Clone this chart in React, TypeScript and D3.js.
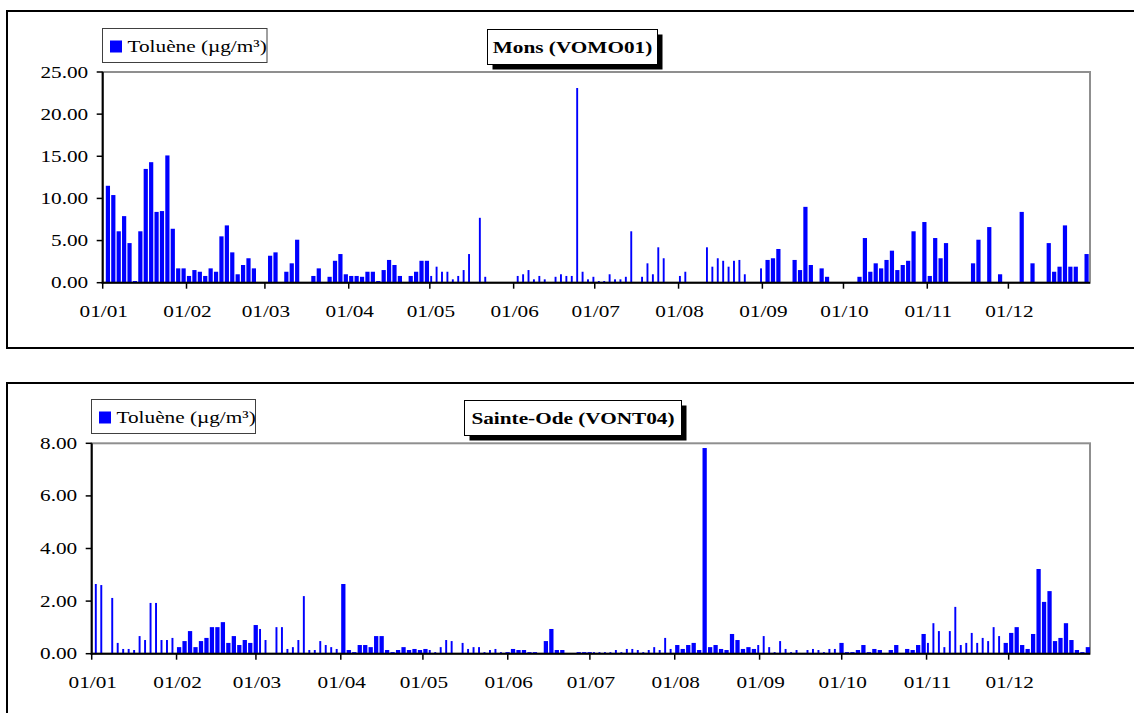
import { useEffect, useRef } from 'react'
import * as d3 from 'd3'

const year = 2004
const seriesName = 'Toluène (µg/m³)'

// Mons (VOMO01): sample start as day of year (0 = 1 Jan), toluene in µg/m³
const monsDays = [
  1, 3, 5, 7, 9, 11, 13, 15, 17, 19, 21, 23, 25, 27, 29, 31, 33, 35, 37, 39, 41, 43, 45, 47, 49, 51, 53, 55,
  61, 63, 67, 69, 71, 77, 79, 83, 85, 87, 89, 91, 93, 95, 97, 99, 101, 103, 105, 107, 109, 113, 115, 117, 119,
  121, 123, 125, 127, 129, 131, 133, 135, 139, 141, 153, 155, 157, 159, 161, 163, 167, 169, 171, 173, 175, 177,
  179, 181, 183, 185, 187, 189, 191, 193, 195, 199, 201, 203, 205, 207, 213, 215, 223, 225, 227, 229, 231, 233,
  235, 237, 243, 245, 247, 249, 255, 257, 259, 261, 265, 267, 279, 281, 283, 285, 287, 289, 291, 293, 295, 297,
  299, 303, 305, 307, 309, 311, 321, 323, 327, 331, 339, 343, 349, 351, 353, 355, 357, 359, 363,
]
const monsValues = [
  11.5, 10.4, 6.1, 7.9, 4.7, 0.2, 6.1, 13.5, 14.3, 8.4, 8.5, 15.1, 6.4, 1.7, 1.7, 0.8, 1.5, 1.3, 0.8, 1.7, 1.3, 5.5, 6.8, 3.6, 1.0, 2.1, 2.9, 1.7,
  3.2, 3.6, 1.3, 2.3, 5.1, 0.8, 1.7, 0.7, 2.6, 3.4, 1.0, 0.8, 0.8, 0.7, 1.3, 1.3, 0.2, 1.5, 2.7, 2.1, 0.8, 0.8, 1.3, 2.6, 2.6,
  0.8, 1.9, 1.3, 1.3, 0.4, 0.8, 1.5, 3.4, 7.7, 0.7, 0.8, 1.0, 1.5, 0.4, 0.8, 0.4, 0.7, 1.0, 0.8, 0.8, 23.1, 1.3,
  0.4, 0.7, 0.2, 0.2, 1.0, 0.4, 0.4, 0.7, 6.1, 0.7, 2.3, 1.0, 4.2, 2.9, 0.8, 1.3, 4.2, 1.9, 2.9, 2.6, 1.9, 2.6,
  2.7, 1.0, 1.7, 2.7, 2.9, 4.0, 2.7, 1.5, 9.0, 2.1, 1.7, 0.7, 0.7, 5.3, 1.3, 2.3, 1.7, 2.7, 3.8, 1.5, 2.1, 2.6,
  6.1, 7.2, 0.8, 5.3, 2.9, 4.7, 2.3, 5.1, 6.6, 1.0, 8.4, 2.3, 4.7, 1.3, 1.9, 6.8, 1.9, 1.9, 3.4,
]
// periods sampled over 48 h (first and last day of the period)
const monsLongRuns = [[1, 119], [245, 363]]
const monsTicks = [0, 5, 10, 15, 20, 25]

// Sainte-Ode (VONT04)
const odeDays = [
  1, 3, 7, 9, 11, 13, 15, 17, 19, 21, 23, 25, 27, 29,
  31, 33, 35, 37, 39, 41, 43, 45, 47, 49, 51, 53, 55, 57, 59,
  61, 63, 67, 69, 71, 73, 75, 77, 79, 81, 83, 85, 87, 89,
  91, 93, 95, 97, 99, 101, 103, 105, 107, 109, 111, 113, 115, 117, 119, 121,
  123, 125, 127, 129, 131, 135, 137, 139, 141, 143, 145, 147, 149,
  151, 153, 155, 157, 159, 161, 165, 167, 169, 171, 177, 179, 181,
  183, 185, 187, 189, 191, 193, 195, 197, 199, 201, 203, 205, 207, 209, 211,
  213, 215, 217, 219, 221, 223, 225, 227, 229, 231, 233, 235, 237, 239, 241,
  243, 245, 247, 249, 251, 253, 255, 257, 261, 263, 265, 267, 269, 271,
  273, 275, 277, 279, 281, 283, 285, 287, 291, 293, 297, 299, 301, 303,
  305, 307, 309, 311, 313, 315, 317, 319, 321, 323, 325, 327, 329, 331,
  333, 335, 337, 339, 341, 343, 345, 347, 349, 351, 353, 355, 357, 359, 361, 363,
]
const odeValues = [
  2.65, 2.61, 2.12, 0.41, 0.18, 0.18, 0.14, 0.67, 0.52, 1.93, 1.93, 0.52, 0.52, 0.6,
  0.25, 0.48, 0.86, 0.25, 0.48, 0.6, 1.01, 1.01, 1.2, 0.41, 0.67, 0.33, 0.52, 0.41, 1.09,
  0.94, 0.52, 1.01, 1.01, 0.18, 0.25, 0.52, 2.19, 0.14, 0.14, 0.48, 0.33, 0.25, 0.18,
  2.65, 0.14, 0.06, 0.33, 0.33, 0.25, 0.67, 0.67, 0.14, 0.06, 0.14, 0.25, 0.14, 0.18, 0.14, 0.18,
  0.14, 0.06, 0.25, 0.52, 0.48, 0.41, 0.18, 0.25, 0.25, 0.06, 0.14, 0.18, 0.06,
  0.06, 0.18, 0.14, 0.14, 0.06, 0.06, 0.48, 0.94, 0.14, 0.14, 0.06, 0.06, 0.06,
  0.06, 0.06, 0.06, 0.06, 0.14, 0.06, 0.18, 0.18, 0.14, 0.06, 0.14, 0.25, 0.14, 0.6, 0.18,
  0.33, 0.18, 0.33, 0.41, 0.14, 7.82, 0.25, 0.33, 0.18, 0.14, 0.75, 0.52, 0.18, 0.25, 0.18,
  0.33, 0.67, 0.25, 0.06, 0.48, 0.18, 0.06, 0.14, 0.14, 0.18, 0.14, 0.06, 0.18, 0.18,
  0.41, 0.06, 0.06, 0.14, 0.33, 0.06, 0.18, 0.14, 0.14, 0.33, 0.18, 0.14, 0.33, 0.75,
  0.41, 1.16, 0.86, 0.25, 0.86, 1.78, 0.33, 0.41, 0.79, 0.41, 0.6, 0.48, 1.01, 0.67,
  0.41, 0.79, 1.01, 0.33, 0.18, 0.75, 3.22, 1.97, 2.38, 0.48, 0.6, 1.16, 0.52, 0.14, 0.06, 0.25,
]
const odeLongRuns = [[31, 59], [91, 121], [151, 181], [213, 241], [273, 303], [333, 363]]
const odeTicks = [0, 2, 4, 6, 8]

type Panel = {
  title: string
  days: number[]
  values: number[]
  longRuns: number[][]
  ticks: number[]
  frame: { x: number; y: number; h: number }
  plot: { l: number; r: number; t: number; b: number; end: number }
  legend: { x: number; y: number; w: number; h: number }
  titleBox: { x: number; y: number; w: number; h: number }
}

const panels: Panel[] = [
  {
    title: 'Mons (VOMO01)',
    days: monsDays,
    values: monsValues,
    longRuns: monsLongRuns,
    ticks: monsTicks,
    frame: { x: 7, y: 11, h: 337 },
    plot: { l: 102.7, r: 1090, t: 72, b: 282.7, end: 1089.5 },
    legend: { x: 102.5, y: 28.5, w: 164.5, h: 34 },
    titleBox: { x: 487.5, y: 29.5, w: 170, h: 35 },
  },
  {
    title: 'Sainte-Ode (VONT04)',
    days: odeDays,
    values: odeValues,
    longRuns: odeLongRuns,
    ticks: odeTicks,
    frame: { x: 7, y: 383, h: 345 },
    plot: { l: 91.7, r: 1090, t: 443.3, b: 653.7, end: 1090.8 },
    legend: { x: 91.5, y: 399.5, w: 164, h: 34 },
    titleBox: { x: 464.5, y: 400.5, w: 217, h: 35 },
  },
]

const FONT = "'Liberation Serif', 'Times New Roman', serif"
const SX = 1.25 // the source text is stretched horizontally

export default function App() {
  const ref = useRef<SVGSVGElement | null>(null)

  useEffect(() => {
    const svg = d3.select(ref.current)
    svg.selectAll('*').remove()
    const t0 = new Date(year, 0, 1)
    const t1 = new Date(year, 11, 31)

    const label = (g: d3.Selection<SVGGElement, unknown, null, undefined>, x: number, y: number, s: string, anchor: string, bold = false) =>
      g.append('text')
        .attr('transform', `translate(${x},${y}) scale(${SX},1)`)
        .attr('text-anchor', anchor)
        .attr('font-family', FONT)
        .attr('font-size', 17)
        .attr('font-weight', bold ? 'bold' : 'normal')
        .attr('fill', '#000')
        .text(s)

    panels.forEach((p) => {
      const g = svg.append('g')
      const { l, r, t, b, end } = p.plot

      // outer frame
      g.append('rect')
        .attr('x', p.frame.x).attr('y', p.frame.y)
        .attr('width', 1200).attr('height', p.frame.h)
        .attr('fill', 'none').attr('stroke', '#000').attr('stroke-width', 2)

      const x = d3.scaleTime().domain([t0, t1]).range([l, end])
      const y = d3.scaleLinear().domain([0, d3.max(p.ticks) as number]).range([b, t])

      // plot area border
      g.append('rect')
        .attr('x', l).attr('y', t).attr('width', r - l).attr('height', b - t)
        .attr('fill', 'none').attr('stroke', '#8f8f8f').attr('stroke-width', 2)

      // bars
      const isLong = (d: number) => p.longRuns.some(([a, z]) => d >= a && d <= z)
      g.append('g')
        .selectAll('rect')
        .data(p.days.map((d, i) => ({ d, v: p.values[i] })))
        .enter()
        .append('rect')
        .attr('x', (s) => x(d3.timeDay.offset(t0, s.d)) + 0.4)
        .attr('width', (s) => {
          const span = isLong(s.d) ? 2 : 1
          const w = x(d3.timeDay.offset(t0, s.d + span)) - x(d3.timeDay.offset(t0, s.d))
          return w - (span === 2 ? 1.2 : 0.8)
        })
        .attr('y', (s) => y(s.v))
        .attr('height', (s) => y(0) - y(s.v))
        .attr('fill', '#0000ff')

      // axes
      g.append('line').attr('x1', l).attr('x2', l).attr('y1', t).attr('y2', b + 1)
        .attr('stroke', '#000').attr('stroke-width', 2)
      g.append('line').attr('x1', l - 1).attr('x2', r).attr('y1', b).attr('y2', b)
        .attr('stroke', '#000').attr('stroke-width', 2)

      p.ticks.forEach((v) => {
        g.append('line').attr('x1', l - 6).attr('x2', l).attr('y1', y(v)).attr('y2', y(v))
          .attr('stroke', '#000').attr('stroke-width', 1.5)
        label(g, l - 14.5, y(v) + 5.5, d3.format('.2f')(v), 'end')
      })

      const fmt = d3.timeFormat('%d/%m')
      d3.timeMonth.range(t0, t1).forEach((m) => {
        const xm = x(m)
        g.append('line').attr('x1', xm).attr('x2', xm).attr('y1', b).attr('y2', b + 6)
          .attr('stroke', '#000').attr('stroke-width', 1.5)
        label(g, xm + 1, b + 34, fmt(m), 'middle')
      })

      // legend
      const lg = p.legend
      g.append('rect').attr('x', lg.x).attr('y', lg.y).attr('width', lg.w).attr('height', lg.h)
        .attr('fill', '#fff').attr('stroke', '#404040').attr('stroke-width', 1)
      g.append('rect').attr('x', lg.x + 7.5).attr('y', lg.y + 12).attr('width', 12).attr('height', 12)
        .attr('fill', '#0000ff')
      label(g, lg.x + 25, lg.y + 23.5, seriesName, 'start')

      // title with shadow
      const tb = p.titleBox
      g.append('rect').attr('x', tb.x + 5).attr('y', tb.y + 5).attr('width', tb.w).attr('height', tb.h)
        .attr('fill', '#000')
      g.append('rect').attr('x', tb.x).attr('y', tb.y).attr('width', tb.w).attr('height', tb.h)
        .attr('fill', '#fff').attr('stroke', '#000').attr('stroke-width', 1)
      label(g, tb.x + tb.w / 2, tb.y + tb.h / 2 + 6, p.title, 'middle', true)
    })
  }, [])

  return (
    <svg
      ref={ref}
      width={1134}
      height={713}
      style={{ position: 'absolute', left: 0, top: 0, background: '#fff' }}
    />
  )
}
